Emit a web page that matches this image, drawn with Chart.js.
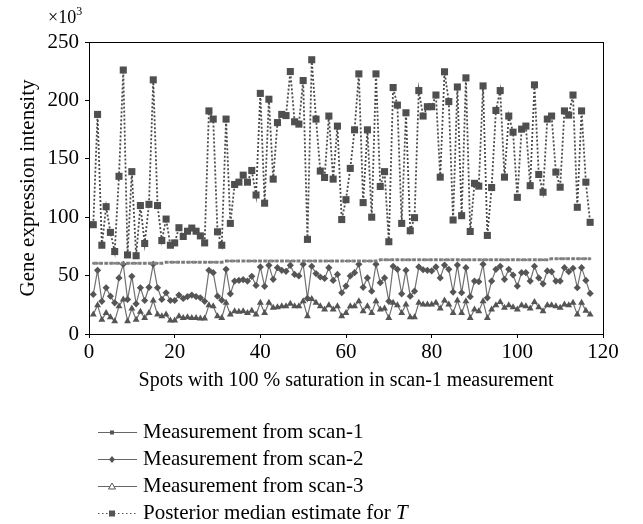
<!DOCTYPE html>
<html>
<head>
<meta charset="utf-8">
<script src="https://cdn.jsdelivr.net/npm/chart.js@4.4.0/dist/chart.umd.min.js"></script>
<style>
	html, body { margin: 0; padding: 0; background: #fff; }
	#wrap { width: 643px; height: 524px; position: relative; }
</style>
</head>
<body>
<div id="wrap"><canvas id="chart"></canvas></div>
<script>
// spot index along the x axis (1..117)
const spots = Array.from({ length: 117 }, (_, i) => i + 1);

// values in thousands
const scan1 = [
	60.5, 60.5, 60.5, 60.5, 60.5, 60.5, 60.5, 60.5, 60.5, 60.5, 60.5, 60.5, 60.5, 60.5, 60.5, 60.5, 60.5
	, 61.5, 61.5, 61.5, 61.5, 61.5, 61.5, 61.5, 61.5, 61.5, 61.5, 61.5, 61.5, 61.5, 61.5
	, 62.5, 62.5, 62.5, 62.5, 62.5, 62.5, 62.5, 62.5, 62.5, 62.5, 62.5, 62.5, 62.5, 62.5, 62.5, 62.5, 62.5, 62.5
	, 62.5, 62.5, 62.5, 62.5, 62.5, 62.5, 62.5, 62.5, 62.5, 62.5, 62.5, 62.5, 62.5, 62.5, 62.5, 62.5, 62.5, 62.5
	, 63.5, 63.5, 63.5, 63.5, 63.5, 63.5, 63.5, 63.5, 63.5, 63.5, 63.5, 63.5, 63.5, 63.5, 63.5, 63.5, 63.5, 63.5, 63.5, 63.5
	, 63.5, 63.5, 63.5, 63.5, 63.5, 63.5, 63.5, 63.5, 63.5, 63.5, 63.5, 63.5, 63.5, 63.5, 63.5, 63.5, 63.5, 63.5, 63.5, 63.5
	, 64.5, 64.5, 64.5, 64.5, 64.5, 64.5, 64.5, 64.5, 64.5, 64.5
];

const scan2 = [
	33.9, 54.5, 28, 39.6, 32.4, 26.7, 48, 59.7, 29.6, 49.4
	, 25.8, 39.6, 28.7, 40, 59.7, 39.6, 29.6, 35.3, 28.7, 28.7
	, 33.3, 30.4, 32, 33.3, 32, 31, 28, 54.5, 52.5, 32.4
	, 29, 55.4, 34.4, 45.3, 45.9, 46.5, 45.3, 49.4, 41.6, 57.4
	, 40.8, 58.8, 46.8, 56.8, 54.5, 53.7, 58.8, 51, 49.7, 59.7
	, 30.5, 58, 51.7, 48.8, 47.6, 56.8, 45.9, 51, 35.3, 41
	, 49.7, 52.5, 59.7, 40, 48, 36.7, 59.7, 43.9, 48, 28
	, 58, 55.4, 34.4, 54.5, 32.4, 36.7, 57.4, 55, 54.5, 54
	, 57.4, 48, 59, 55.4, 35.9, 59, 35.3, 56.8, 31.9, 45.3
	, 44.8, 59.7, 31, 45.3, 55.4, 58, 46.8, 55.4, 50.5, 41
	, 52.5, 52.5, 45.3, 58, 48, 43, 54, 53.4, 45.3, 45.3
	, 56.8, 53.4, 56.3, 39.6, 56.8, 45.9, 34.7
];

const scan3 = [
	16.6, 24.7, 12.3, 18, 14.4, 11, 23.8, 29.6, 11, 21.8
	, 12.3, 19, 13.8, 18, 28.7, 16.6, 15.2, 16.6, 11.5, 11.5
	, 15.2, 13.8, 14.4, 13.8, 13.8, 13.2, 13.2, 24.7, 23.8, 15.2
	, 13.8, 26.7, 16.6, 19.5, 19, 19.5, 18, 20, 16.6, 26.7
	, 18, 26.7, 22.4, 23, 23.8, 23.8, 25.8, 23.8, 23.8, 28
	, 15.2, 30, 26.7, 23.8, 21, 24.7, 21, 23.8, 15.2, 18
	, 23.8, 23.8, 28, 19.5, 23.8, 18, 28, 21, 21.8, 13.8
	, 26.7, 24.7, 18, 25.2, 14.4, 14.4, 26.7, 25.2, 25.2, 25.2
	, 26.7, 21.8, 28.7, 25.2, 18, 28.7, 18, 28, 13.8, 21
	, 19.5, 28, 13.8, 21, 24.7, 27.5, 22.4, 24.7, 23, 21
	, 24.7, 23.8, 21.8, 27.5, 23, 19.5, 24.7, 24.7, 23.8, 22.4
	, 25.2, 24.7, 26.7, 16.6, 26.7, 20, 16.6
];

const posterior = [
	93.6, 188, 76, 109, 87, 70.6, 135, 226, 67.7, 139
	, 67, 110, 77.5, 111, 217.6, 110, 80, 98.4, 76, 78
	, 91, 83.5, 88, 90.7, 88, 84, 78, 191, 184, 87.5
	, 76, 184, 94.7, 128, 130, 136, 130, 140, 119, 206
	, 112, 201, 132.6, 181, 188, 187, 224.7, 181.7, 179.7, 217
	, 81, 234.8, 184, 139.5, 134, 186.6, 132.6, 178, 98, 115
	, 141.8, 174.8, 222.7, 112.5, 174.8, 100, 222.7, 126.3, 139, 79
	, 211, 196, 94.7, 189.4, 88.4, 99.6, 208.4, 186.6, 194.6, 194.6
	, 204.6, 134.3, 224.5, 199, 97.6, 211.5, 101.3, 219.3, 87.8, 129
	, 126.6, 212.4, 84.4, 125.4, 191.4, 208.4, 134.3, 186.6, 172.8, 117
	, 175.4, 178, 127, 213.3, 136.6, 121.4, 184, 186.6, 138.6, 125.7
	, 191, 187.4, 204.6, 108.5, 191, 130, 95.6
];

const seriesLabels = [
	"Measurement from scan-1"
	, "Measurement from scan-2"
	, "Measurement from scan-3"
	, "Posterior median estimate for T"
];

const xTicks = [0, 20, 40, 60, 80, 100, 120];
const yTicks = [0, 50, 100, 150, 200, 250];

const serif = "'Liberation Serif', 'DejaVu Serif', serif";

// frame, x10^3 label and the stacked legend below the plot
const decorPlugin = {
	id: "decor"
	, afterDraw(chart) {
		const ctx = chart.ctx;
		const a = chart.chartArea;
		ctx.save();
		ctx.strokeStyle = "#000";
		ctx.lineWidth = 1;
		ctx.strokeRect(Math.round(a.left) + 0.5, Math.round(a.top) + 0.5
			, Math.round(a.right - a.left), Math.round(a.bottom - a.top));

		ctx.fillStyle = "#000";
		ctx.font = "18px " + serif;
		ctx.textBaseline = "alphabetic";
		ctx.fillText("\u00d710", 48, 23);
		const w10 = ctx.measureText("\u00d710").width;
		ctx.font = "12px " + serif;
		ctx.fillText("3", 48 + w10, 15);

		// legend rows
		const rowY = [432, 459, 486, 513];
		chart.data.datasets.forEach((ds, i) => {
			const y = rowY[i];
			ctx.strokeStyle = i === 3 ? "#555" : "#666";
			ctx.lineWidth = 1;
			ctx.setLineDash(i === 3 ? [1.5, 2.5] : []);
			ctx.beginPath();
			ctx.moveTo(98, y + 0.5);
			ctx.lineTo(137, y + 0.5);
			ctx.stroke();
			ctx.setLineDash([]);
			const mx = 112;
			ctx.fillStyle = "#555";
			ctx.strokeStyle = "#555";
			if (i === 0 || i === 3) {
				const s = i === 3 ? 6 : 4;
				ctx.fillRect(mx - s / 2, y - s / 2 + 0.5, s, s);
			} else if (i === 1) {
				ctx.beginPath();
				ctx.moveTo(mx, y - 3);
				ctx.lineTo(mx + 3, y + 0.5);
				ctx.lineTo(mx, y + 4);
				ctx.lineTo(mx - 3, y + 0.5);
				ctx.closePath();
				ctx.fill();
			} else {
				ctx.beginPath();
				ctx.moveTo(mx, y - 3);
				ctx.lineTo(mx + 3.5, y + 3);
				ctx.lineTo(mx - 3.5, y + 3);
				ctx.closePath();
				ctx.fillStyle = "#fff";
				ctx.fill();
				ctx.stroke();
			}
			ctx.fillStyle = "#000";
			ctx.font = "21px " + serif;
			ctx.textBaseline = "middle";
			const label = ds.label;
			if (label.endsWith(" T")) {
				const head = label.slice(0, -1);
				ctx.fillText(head, 143, y);
				const w = ctx.measureText(head).width;
				ctx.font = "italic 21px " + serif;
				ctx.fillText("T", 143 + w, y);
			} else {
				ctx.fillText(label, 143, y);
			}
		});
		ctx.restore();
	}
};

const ctx = document.getElementById("chart");

new Chart(ctx, {
	type: "line"
	, data: {
		labels: spots
		, datasets: [
			{
				label: seriesLabels[0]
				, data: scan1
				, borderColor: "#8a8a8a"
				, borderWidth: 3
				, borderDash: [4, 1.5]
				, pointStyle: "rect"
				, pointRadius: 1.5
				, pointBackgroundColor: "#777"
				, pointBorderColor: "#777"
				, pointBorderWidth: 0
			}
			, {
				label: seriesLabels[1]
				, data: scan2
				, borderColor: "#707070"
				, borderWidth: 1.2
				, pointStyle: "rectRot"
				, pointRadius: 3.6
				, pointBackgroundColor: "#555"
				, pointBorderColor: "#555"
				, pointBorderWidth: 0
			}
			, {
				label: seriesLabels[2]
				, data: scan3
				, borderColor: "#707070"
				, borderWidth: 1.2
				, pointStyle: "triangle"
				, pointRadius: 4
				, pointBackgroundColor: "#555"
				, pointBorderColor: "#555"
				, pointBorderWidth: 0
			}
			, {
				label: seriesLabels[3]
				, data: posterior
				, borderColor: "#4a4a4a"
				, borderWidth: 1.8
				, borderDash: [2, 2]
				, pointStyle: "rect"
				, pointRadius: 5
				, pointBackgroundColor: "#4f4f4f"
				, pointBorderColor: "#4f4f4f"
				, pointBorderWidth: 0
			}
		]
	}
	, options: {
		responsive: true
		, maintainAspectRatio: false
		, animation: false
		, layout: {
			padding: { left: 0, right: 40, top: 42, bottom: 129 }
		}
		, plugins: {
			legend: { display: false }
			, tooltip: { enabled: false }
		}
		, scales: {
			x: {
				type: "linear"
				, min: 0
				, max: 120
				, afterFit: (scale) => { scale.height = 61; }
				, afterBuildTicks: (scale) => { scale.ticks = xTicks.map(v => ({ value: v })); }
				, grid: {
					drawOnChartArea: false
					, drawTicks: true
					, tickLength: 4
					, color: "#000"
				}
				, border: { display: true, color: "#000" }
				, ticks: {
					color: "#000"
					, font: { family: serif, size: 21 }
					, padding: 2
					, maxRotation: 0
				}
				, title: {
					display: true
					, text: "Spots with 100 % saturation in scan-1 measurement"
					, color: "#000"
					, font: { family: serif, size: 20 }
					, padding: { top: 0, bottom: 2 }
				}
			}
			, y: {
				min: 0
				, max: 250
				, afterFit: (scale) => { scale.width = 89; }
				, afterBuildTicks: (scale) => { scale.ticks = yTicks.map(v => ({ value: v })); }
				, grid: {
					drawOnChartArea: false
					, drawTicks: true
					, tickLength: 4
					, color: "#000"
				}
				, border: { display: true, color: "#000" }
				, ticks: {
					color: "#000"
					, font: { family: serif, size: 21 }
					, padding: 6
				}
				, title: {
					display: true
					, text: "Gene expression intensity"
					, color: "#000"
					, font: { family: serif, size: 21 }
					, padding: { top: 16, bottom: 0 }
				}
			}
		}
	}
	, plugins: [decorPlugin]
});
</script>
</body>
</html>
